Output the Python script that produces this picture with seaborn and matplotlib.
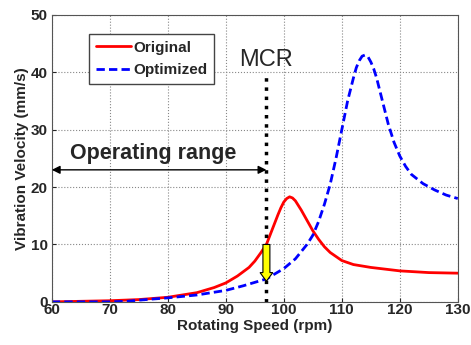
import numpy as np
import pandas as pd
import seaborn as sns
import matplotlib.pyplot as plt
from matplotlib.patches import FancyArrow

# Curves
speed_orig = [60, 65, 70, 75, 80, 85, 88, 90, 92, 94, 95, 96, 97, 98, 99, 99.5, 100, 100.5, 101, 101.5, 102, 103, 104, 105, 106, 107, 108, 110, 112, 115, 120, 125, 130]
vel_orig = [0.0, 0.1, 0.2, 0.4, 0.8, 1.6, 2.5, 3.3, 4.5, 6.0, 7.1, 8.5, 10.0, 12.6, 15.2, 16.4, 17.4, 18.0, 18.3, 18.1, 17.6, 16.0, 14.2, 12.4, 10.9, 9.6, 8.6, 7.2, 6.5, 6.0, 5.4, 5.1, 5.0]
speed_opt = [60, 65, 70, 73, 75, 80, 85, 90, 93, 95, 97, 100, 102, 104, 105, 106, 107, 108, 109, 110, 111, 112, 112.5, 113, 113.5, 114, 114.5, 115, 115.5, 116, 117, 118, 119, 120, 121, 122, 124, 126, 128, 130]
vel_opt = [0.0, 0.0, 0.0, 0.1, 0.3, 0.7, 1.2, 2.0, 2.8, 3.4, 4.0, 5.8, 7.5, 10.0, 11.6, 14.0, 17.0, 20.5, 25.0, 30.0, 35.0, 39.0, 40.8, 42.0, 42.8, 43.0, 42.7, 41.8, 40.6, 39.0, 35.0, 31.0, 27.8, 25.4, 23.6, 22.2, 20.6, 19.5, 18.6, 18.0]
mcr_speed = 97

sns.set_style('ticks')
plt.rcParams['font.family'] = ['Liberation Sans', 'DejaVu Sans']

df = pd.concat([
    pd.DataFrame({'speed': speed_orig, 'vel': vel_orig, 'case': 'Original'}),
    pd.DataFrame({'speed': speed_opt, 'vel': vel_opt, 'case': 'Optimized'}),
])

fig = plt.figure(figsize=(4.71, 3.45), dpi=100)
ax = fig.add_axes([0.110, 0.125, 0.862, 0.832])

sns.lineplot(data=df, x='speed', y='vel', hue='case', style='case',
             palette={'Original': 'red', 'Optimized': 'blue'},
             dashes={'Original': '', 'Optimized': (3, 1.5)},
             linewidth=2, ax=ax)

ax.set_xlim(60, 130)
ax.set_ylim(0, 50)
ax.set_xticks(range(60, 131, 10))
ax.set_yticks(range(0, 51, 10))
ax.grid(True, linestyle=':', color='#888888', linewidth=0.8)
ax.tick_params(direction='in', labelsize=11, length=3)
ax.tick_params(axis='x', pad=1)
ax.tick_params(axis='y', pad=3)
for lbl in ax.get_xticklabels() + ax.get_yticklabels():
    lbl.set_fontweight('bold')
for s in ax.spines.values():
    s.set_color('#555555')
    s.set_linewidth(0.8)
ax.set_xlabel('Rotating Speed (rpm)', fontsize=11, fontweight='bold', labelpad=1)
ax.set_ylabel('Vibration Velocity (mm/s)', fontsize=11, fontweight='bold', labelpad=1)

leg = ax.legend(loc='upper left', bbox_to_anchor=(0.072, 0.96), fancybox=False,
                edgecolor='#444444', framealpha=1, handlelength=2.3,
                handletextpad=0.15, borderpad=0.45, labelspacing=0.55,
                prop={'weight': 'bold', 'size': 11})
leg.get_frame().set_linewidth(1.0)

# MCR line and label
ax.plot([mcr_speed, mcr_speed], [0, 40], color='black', linestyle=':', linewidth=2.5)
ax.text(mcr_speed, 40.3, 'MCR', fontsize=17, ha='center', va='bottom')

# operating range arrow
ax.annotate('', xy=(60, 23), xytext=(mcr_speed, 23),
            arrowprops=dict(arrowstyle='<|-|>', color='black', lw=1.0, mutation_scale=12,
                            shrinkA=0, shrinkB=0))
ax.text(77.4, 25.8, 'Operating range', fontsize=15.5, fontweight='bold', ha='center', va='center')

# yellow arrow
ax.add_patch(FancyArrow(mcr_speed, 10, 0, -6.4, width=1.2, head_width=2.2,
                        head_length=1.5, length_includes_head=True,
                        facecolor='yellow', edgecolor='black', linewidth=0.8, zorder=5))

fig.savefig('out.png', dpi=100)
